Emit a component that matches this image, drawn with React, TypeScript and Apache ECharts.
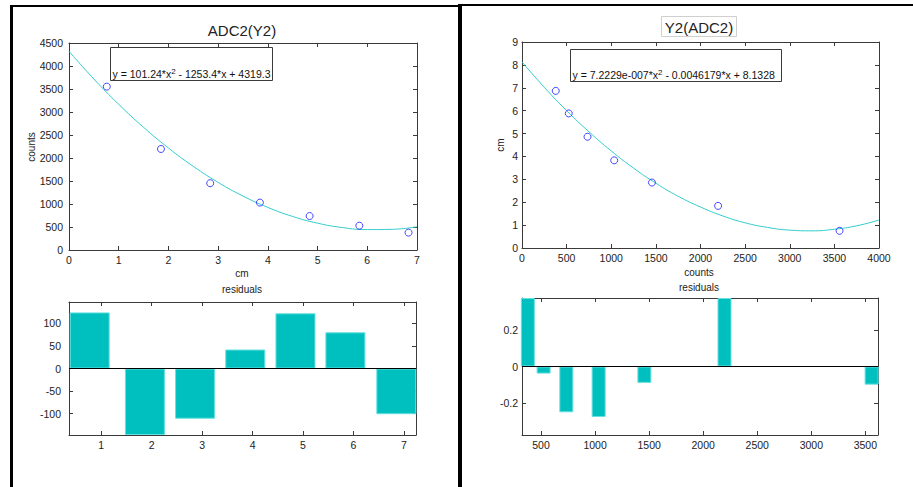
import React, { useEffect, useRef } from "react";
import * as echarts from "echarts";

// ---- data ----
const leftCm = [0.76, 1.85, 2.84, 3.84, 4.84, 5.84, 6.83];
const leftCounts = [3552, 2196, 1452, 1030, 739, 529, 378];
const leftResX = [0.77, 1.865, 2.86, 3.855, 4.85, 5.84, 6.85];
const leftResiduals = [124, -147, -111, 42, 122, 80, -101];
const leftFitX = [0, 0.5, 1, 1.5, 2, 2.5, 3, 3.5, 4, 4.5, 5, 5.5, 6, 6.5, 7];
const leftFitY = [4319, 3718, 3167, 2667, 2218, 1819, 1470, 1173, 926, 729, 583, 488, 444, 450, 506];

const rightCounts = [378, 524, 734, 1033, 1456, 2197, 3558];
const rightCm = [6.865, 5.88, 4.86, 3.83, 2.86, 1.84, 0.75];
const rightResiduals = [0.377, -0.039, -0.252, -0.278, -0.09, 0.377, -0.1];
const rightFitX = [0, 250, 500, 750, 1000, 1250, 1500, 1750, 2000, 2250, 2500, 2750, 3000, 3250, 3500, 3750, 4000];
const rightFitY = [8.13, 7.02, 6.0, 5.08, 4.24, 3.49, 2.83, 2.26, 1.79, 1.4, 1.1, 0.9, 0.78, 0.75, 0.82, 0.97, 1.22];

const leftResXTicks = [1, 2, 3, 4, 5, 6, 7];
const leftResYTicks = [-100, -50, 0, 50, 100];
const rightResXTicks = [500, 1000, 1500, 2000, 2500, 3000, 3500];
const rightResYTicks = [-0.2, 0, 0.2];

const leftTitle = "ADC2(Y2)";
const rightTitle = "Y2(ADC2)";

const FONT = "Liberation Sans, Arial, Helvetica, sans-serif";
const FRAME = "#3a3a3a";
const CURVE = "#33cccc";
const BAR = "#00bfbf";
const BAR_EDGE = "#66e0e0";
const DOT = "#1a1aff";

const labelStyle = { fontFamily: FONT, fontSize: 10.5, color: "#222", formatter: (v: number) => String(v) };

function xAxis(gridIndex: number, min: number, max: number, extra: any, top: boolean) {
  const ticks = extra.customValues;
  return {
    type: "value",
    gridIndex,
    position: top ? "top" : "bottom",
    min,
    max,
    interval: extra.interval,
    splitLine: { show: false },
    axisLine: { show: true, onZero: false, lineStyle: { color: FRAME, width: 1 } },
    axisTick: ticks
      ? { show: true, inside: true, length: 4, lineStyle: { color: FRAME }, customValues: ticks }
      : { show: true, inside: true, length: 4, lineStyle: { color: FRAME } },
    axisLabel: top
      ? { show: false }
      : ticks
      ? { show: true, margin: 4, showMinLabel: true, showMaxLabel: true, customValues: ticks, ...labelStyle }
      : { show: true, margin: 4, showMinLabel: true, showMaxLabel: true, ...labelStyle },
  };
}

function yAxis(gridIndex: number, min: number, max: number, extra: any, right: boolean, margin: number) {
  const ticks = extra.customValues;
  return {
    type: "value",
    gridIndex,
    position: right ? "right" : "left",
    min,
    max,
    interval: extra.interval,
    splitLine: { show: false },
    axisLine: { show: true, onZero: false, lineStyle: { color: FRAME, width: 1 } },
    axisTick: ticks
      ? { show: true, inside: true, length: 4, lineStyle: { color: FRAME }, customValues: ticks }
      : { show: true, inside: true, length: 4, lineStyle: { color: FRAME } },
    axisLabel: right
      ? { show: false }
      : ticks
      ? { show: true, margin, showMinLabel: true, showMaxLabel: true, customValues: ticks, ...labelStyle }
      : { show: true, margin, showMinLabel: true, showMaxLabel: true, ...labelStyle },
  };
}

function blackRect(x: number, y: number, w: number, h: number) {
  return { type: "rect", shape: { x, y, width: w, height: h }, style: { fill: "#000" }, silent: true };
}

function text(x: number, y: number, t: string, size: number, rot = 0) {
  return {
    type: "text",
    x,
    y,
    rotation: rot,
    silent: true,
    style: { text: t, fontFamily: FONT, fontSize: size, fill: "#222", align: "center", verticalAlign: "middle" },
  };
}

function eqBox(x: number, y: number, w: number, h: number, before: string, after: string) {
  return {
    type: "group",
    silent: true,
    children: [
      { type: "rect", shape: { x, y, width: w, height: h }, style: { fill: "#fff", stroke: FRAME, lineWidth: 1 } },
      {
        type: "text",
        x: x + 2,
        y: y + h - 1,
        style: {
          text: `{n|${before}}{s|2}{n|${after}}`,
          align: "left",
          verticalAlign: "bottom",
          fill: "#111",
          rich: {
            n: { fontFamily: FONT, fontSize: 10.5, lineHeight: 12, verticalAlign: "bottom", fill: "#111" },
            s: { fontFamily: FONT, fontSize: 8, lineHeight: 9, verticalAlign: "top", fill: "#111" },
          },
        },
      },
    ],
  };
}

const dotStyle = { color: "rgba(255,255,255,0)", borderColor: DOT, borderWidth: 1 };

export default function App() {
  const ref = useRef<HTMLDivElement>(null);

  useEffect(() => {
    if (!ref.current) return;
    const chart = echarts.init(ref.current, undefined, { renderer: "svg" });

    const option: any = {
      animation: false,
      backgroundColor: "#fff",
      grid: [
        { left: 69, top: 43, width: 348, height: 207, containLabel: false },
        { left: 69, top: 302, width: 347, height: 133, containLabel: false },
        { left: 522, top: 42, width: 357, height: 206, containLabel: false },
        { left: 522, top: 298, width: 356, height: 137, containLabel: false },
      ],
      xAxis: [
        xAxis(0, 0, 7, { interval: 1 }, false),
        xAxis(0, 0, 7, { interval: 1 }, true),
        xAxis(1, 0.36, 7.24, { customValues: leftResXTicks }, false),
        xAxis(1, 0.36, 7.24, { customValues: leftResXTicks }, true),
        xAxis(2, 0, 4000, { interval: 500 }, false),
        xAxis(2, 0, 4000, { interval: 500 }, true),
        xAxis(3, 324, 3617, { customValues: rightResXTicks }, false),
        xAxis(3, 324, 3617, { customValues: rightResXTicks }, true),
      ],
      yAxis: [
        yAxis(0, 0, 4500, { interval: 500 }, false, 6),
        yAxis(0, 0, 4500, { interval: 500 }, true, 6),
        yAxis(1, -147, 147, { customValues: leftResYTicks }, false, 8),
        yAxis(1, -147, 147, { customValues: leftResYTicks }, true, 8),
        yAxis(2, 0, 9, { interval: 1 }, false, 4),
        yAxis(2, 0, 9, { interval: 1 }, true, 4),
        yAxis(3, -0.377, 0.377, { customValues: rightResYTicks }, false, 4),
        yAxis(3, -0.377, 0.377, { customValues: rightResYTicks }, true, 4),
      ],
      series: [
        {
          type: "line",
          xAxisIndex: 0,
          yAxisIndex: 0,
          data: leftFitX.map((x, i) => [x, leftFitY[i]]),
          smooth: true,
          showSymbol: false,
          symbol: "none",
          lineStyle: { color: CURVE, width: 1 },
          z: 2,
          silent: true,
        },
        {
          type: "scatter",
          xAxisIndex: 0,
          yAxisIndex: 0,
          data: leftCm.map((x, i) => [x, leftCounts[i]]),
          symbol: "circle",
          symbolSize: 7,
          itemStyle: dotStyle,
          z: 3,
          silent: true,
        },
        {
          type: "bar",
          xAxisIndex: 2,
          yAxisIndex: 2,
          data: leftResX.map((x, i) => [x, leftResiduals[i]]),
          barWidth: 40,
          clip: true,
          itemStyle: { color: BAR, borderColor: BAR_EDGE, borderWidth: 1 },
          silent: true,
          markLine: {
            silent: true,
            symbol: "none",
            label: { show: false },
            lineStyle: { color: "#000", type: "solid", width: 1 },
            data: [{ yAxis: 0 }],
          },
        },
        {
          type: "line",
          xAxisIndex: 4,
          yAxisIndex: 4,
          data: rightFitX.map((x, i) => [x, rightFitY[i]]),
          smooth: true,
          showSymbol: false,
          symbol: "none",
          lineStyle: { color: CURVE, width: 1 },
          z: 2,
          silent: true,
        },
        {
          type: "scatter",
          xAxisIndex: 4,
          yAxisIndex: 4,
          data: rightCounts.map((x, i) => [x, rightCm[i]]),
          symbol: "circle",
          symbolSize: 7,
          itemStyle: dotStyle,
          z: 3,
          silent: true,
        },
        {
          type: "bar",
          xAxisIndex: 6,
          yAxisIndex: 6,
          data: rightCounts.map((x, i) => [x, rightResiduals[i]]),
          barWidth: 14,
          clip: true,
          itemStyle: { color: BAR, borderColor: BAR_EDGE, borderWidth: 1 },
          silent: true,
          markLine: {
            silent: true,
            symbol: "none",
            label: { show: false },
            lineStyle: { color: "#000", type: "solid", width: 1 },
            data: [{ yAxis: 0 }],
          },
        },
      ],
      graphic: [
        // panel frames
        blackRect(10, 5, 3, 482),
        blackRect(10, 5, 450, 2),
        blackRect(458, 4, 4, 483),
        blackRect(458, 4, 455, 2),
        // titles
        text(242, 30, leftTitle, 15),
        {
          type: "rect",
          silent: true,
          shape: { x: 661.5, y: 16.5, width: 75, height: 20 },
          style: { fill: "#fff", stroke: "#cfcfcf", lineWidth: 1 },
        },
        text(699, 27, rightTitle, 15),
        // axis names
        text(31.5, 147, "counts", 10, Math.PI / 2),
        text(242, 273, "cm", 10),
        text(242, 289, "residuals", 10),
        text(500.5, 145, "cm", 10, Math.PI / 2),
        text(699, 272, "counts", 10),
        text(699, 287, "residuals", 10),
        // equation boxes
        eqBox(110.5, 47.5, 162, 33, "y = 101.24*x", " - 1253.4*x + 4319.3"),
        eqBox(570.5, 49.5, 211, 32, "y = 7.2229e-007*x", " - 0.0046179*x + 8.1328"),
      ],
    };

    chart.setOption(option);
    return () => chart.dispose();
  }, []);

  return (
    <div
      ref={ref}
      style={{ position: "fixed", left: 0, top: 0, width: 913, height: 487, background: "#fff" }}
    />
  );
}
